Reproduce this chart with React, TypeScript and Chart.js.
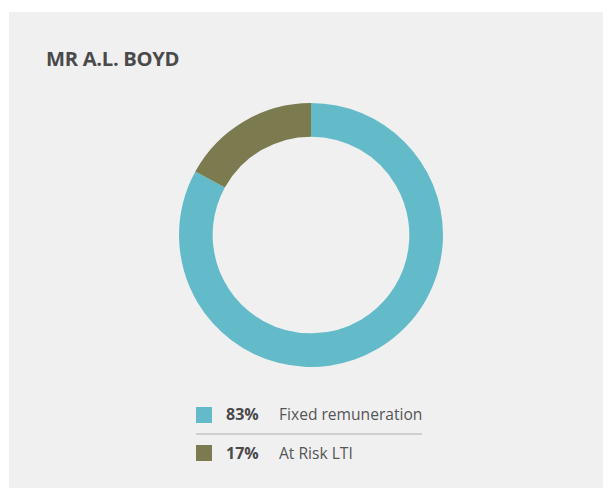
import React, { useEffect, useRef } from "react";
import { Chart, registerables } from "chart.js";

Chart.register(...registerables);

const title = "MR A.L. BOYD";
const categories = ["Fixed remuneration", "At Risk LTI"];
const values = [83, 17];
const valueLabels = ["83%", "17%"];
const colors = ["#63bbca", "#7b7b4f"];

const FONT = "'Open Sans', sans-serif";
const TEXT = "#4a4a4a";

export default function App() {
  const ref = useRef<HTMLCanvasElement | null>(null);

  useEffect(() => {
    if (!ref.current) return;
    const chart = new Chart(ref.current, {
      type: "doughnut",
      data: {
        labels: categories,
        datasets: [
          {
            data: values,
            backgroundColor: colors,
            borderWidth: 0,
            hoverOffset: 0,
          },
        ],
      },
      options: {
        animation: false,
        responsive: false,
        maintainAspectRatio: false,
        cutout: "74.5%",
        layout: { padding: 0 },
        plugins: {
          legend: { display: false },
          tooltip: { enabled: false },
          title: { display: false },
        },
      },
    });
    return () => chart.destroy();
  }, []);

  return (
    <div
      style={{
        position: "fixed",
        left: 9,
        top: 12,
        width: 594,
        height: 476,
        background: "#f0f0f0",
        fontFamily: FONT,
        color: TEXT,
      }}
    >
      <div
        style={{
          position: "absolute",
          left: 37,
          top: 31,
          fontSize: 20.2,
          fontWeight: 700,
          lineHeight: "30px",
          letterSpacing: -0.3,
          whiteSpace: "nowrap",
        }}
      >
        {title}
      </div>
      <canvas
        ref={ref}
        width={264}
        height={264}
        style={{ position: "absolute", left: 170, top: 91, width: 264, height: 264 }}
      />
      {categories.map((c, i) => (
        <div
          key={c}
          style={{
            position: "absolute",
            left: 187,
            top: 394.7 + i * 38.3,
            height: 16,
            width: 240,
          }}
        >
          <div
            style={{
              position: "absolute",
              left: 0,
              top: 0,
              width: 16,
              height: 16,
              background: colors[i],
            }}
          />
          <span
            style={{
              position: "absolute",
              left: 30,
              top: -3.5,
              fontSize: 16,
              fontWeight: 700,
              lineHeight: "22px",
              whiteSpace: "nowrap",
            }}
          >
            {valueLabels[i]}
          </span>
          <span
            style={{
              position: "absolute",
              left: 83,
              top: -3.5,
              fontSize: 15.6,
              lineHeight: "22px",
              whiteSpace: "nowrap",
              color: "#555555",
            }}
          >
            {c}
          </span>
        </div>
      ))}
      <div
        style={{
          position: "absolute",
          left: 187,
          top: 421,
          width: 226,
          height: 2,
          background: "#cfcfcf",
        }}
      />
    </div>
  );
}
